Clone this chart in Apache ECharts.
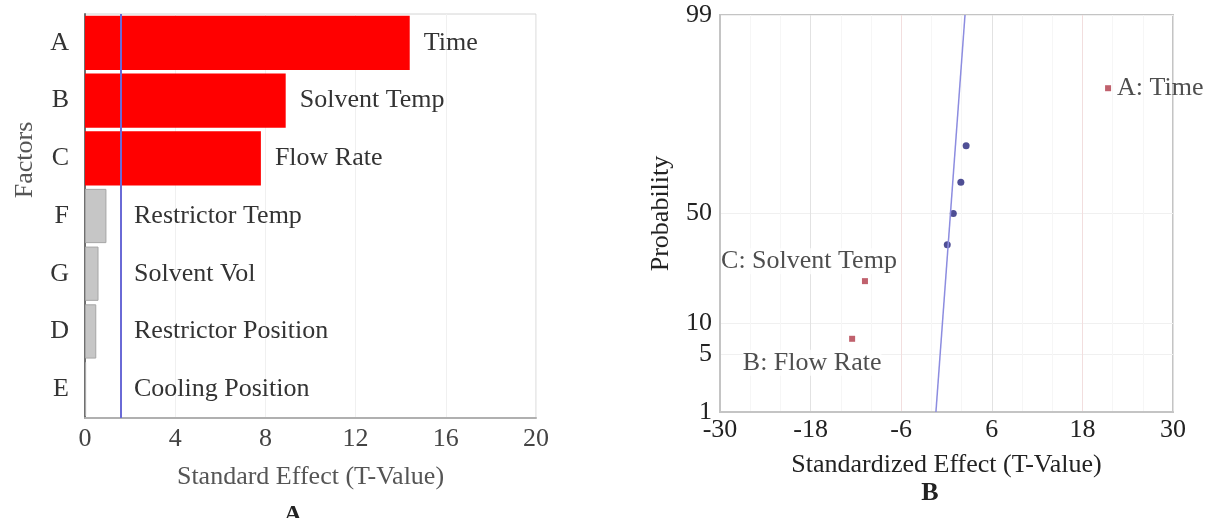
<!DOCTYPE html>
<html>
<head>
<meta charset="utf-8">
<script src="https://cdn.jsdelivr.net/npm/echarts@6/dist/echarts.min.js"></script>
<style>
  html, body { margin: 0; padding: 0; background: #fff; }
  #main { width: 1217px; height: 518px; }
</style>
</head>
<body>
<div id="main"></div>
<script>
// --- Pareto chart (A) ---
var factors = ['A', 'B', 'C', 'F', 'G', 'D', 'E'];
var factorNames = ['Time', 'Solvent Temp', 'Flow Rate', 'Restrictor Temp', 'Solvent Vol', 'Restrictor Position', 'Cooling Position'];
var tValues = [14.4, 8.9, 7.8, 0.95, 0.6, 0.5, 0.05];
var critT = 1.6;

// --- normal probability plot (B) ---
var sigNames = ['A: Time', 'C: Solvent Temp', 'B: Flow Rate'];
var sigEffect = [21.4, -10.8, -12.5];
var sigProb = [92.9, 21.4, 7.1];
var otherEffect = [0.1, 0.9, 1.9, 2.6];
var otherProb = [35.7, 50, 64.3, 78.6];
var fitEffect = [-1.4, 2.45];
var fitProb = [1, 99];
var probTicks = [1, 5, 10, 50, 99];

var serif = 'Liberation Serif';

// inverse normal cdf (Acklam), used for the probability axis
function probit(p) {
  var a = [-39.69683028665376, 220.9460984245205, -275.9285104469687, 138.3577518672690, -30.66479806614716, 2.506628277459239];
  var b = [-54.47609879822406, 161.5858368580409, -155.6989798598866, 66.80131188771972, -13.28068155833172];
  var c = [-0.007784894002430293, -0.3223964580411365, -2.400758277161838, -2.549732539343734, 4.374664141464968, 2.938163982698783];
  var d = [0.007784695709041462, 0.3224671290700398, 2.445134137142996, 3.754408661907416];
  var q, r;
  if (p < 0.02425) {
    q = Math.sqrt(-2 * Math.log(p));
    return (((((c[0]*q+c[1])*q+c[2])*q+c[3])*q+c[4])*q+c[5]) / ((((d[0]*q+d[1])*q+d[2])*q+d[3])*q+1);
  }
  if (p > 1 - 0.02425) {
    q = Math.sqrt(-2 * Math.log(1 - p));
    return -(((((c[0]*q+c[1])*q+c[2])*q+c[3])*q+c[4])*q+c[5]) / ((((d[0]*q+d[1])*q+d[2])*q+d[3])*q+1);
  }
  q = p - 0.5; r = q * q;
  return (((((a[0]*r+a[1])*r+a[2])*r+a[3])*r+a[4])*r+a[5])*q / (((((b[0]*r+b[1])*r+b[2])*r+b[3])*r+b[4])*r+1);
}
var z = function (pct) { return probit(pct / 100); };
var probTickZ = probTicks.map(z);

var barData = tValues.map(function (v, i) {
  var big = v > critT;
  return {
    value: v,
    name: factorNames[i],
    itemStyle: big ? { color: '#ff0000' } : { color: '#c6c6c6', borderColor: '#a6a6a6', borderWidth: 1 },
    label: big ? { position: 'right', distance: 14 } : { position: [49, '50%'], verticalAlign: 'middle' }
  };
});

var sigOffsets = [[0, 0], [-56, -20], [-40, 24]];
var sigData = sigEffect.map(function (x, i) {
  var lab = { show: true, formatter: sigNames[i] };
  if (i === 0) { lab.position = 'right'; lab.distance = 6; }
  else { lab.position = 'inside'; lab.offset = sigOffsets[i]; lab.backgroundColor = '#fff'; }
  return { value: [x, z(sigProb[i])], label: lab };
});

var option = {
  animation: false,
  textStyle: { fontFamily: serif },
  grid: [
    { left: 85, right: 681, top: 14, bottom: 100, show: true, borderColor: '#d4d4d4', borderWidth: 1 },
    { left: 720, right: 44, top: 15, bottom: 106, show: true, borderColor: '#c4c4c4', borderWidth: 2 }
  ],
  xAxis: [
    {
      gridIndex: 0, type: 'value', min: 0, max: 20, interval: 4,
      name: 'Standard Effect (T-Value)', nameLocation: 'middle', nameGap: 46,
      nameTextStyle: { fontFamily: serif, fontSize: 26, color: '#555' },
      axisLine: { show: true, onZero: false, lineStyle: { color: '#b0b0b0', width: 2 } },
      axisTick: { show: false },
      axisLabel: { fontFamily: serif, fontSize: 26, color: '#444', margin: 8 },
      splitLine: { show: true, lineStyle: { color: '#f0f0f0' } }
    },
    {
      gridIndex: 1, type: 'value', min: -30, max: 30, interval: 12,
      name: 'Standardized Effect (T-Value)', nameLocation: 'middle', nameGap: 40,
      nameTextStyle: { fontFamily: serif, fontSize: 26, color: '#222' },
      axisLine: { show: true, onZero: false, lineStyle: { color: '#c4c4c4', width: 2 } },
      axisTick: { show: false },
      axisLabel: { fontFamily: serif, fontSize: 26, color: '#222', margin: 5 },
      splitLine: { show: true, lineStyle: { color: ['#e0e0e0', '#e2e2e2', '#f2dede', '#e2e2e2', '#f2dede', '#e0e0e0'] } },
      minorTick: { show: false, splitNumber: 3 },
      minorSplitLine: { show: true, lineStyle: { color: '#f6f6f6' } }
    }
  ],
  yAxis: [
    {
      gridIndex: 0, type: 'category', data: factors, inverse: true,
      axisLine: { show: true, onZero: false, lineStyle: { color: '#707070', width: 2 } },
      axisTick: { show: false },
      axisLabel: { fontFamily: serif, fontSize: 26, color: '#333', margin: 16 },
      splitLine: { show: false }
    },
    {
      gridIndex: 1, type: 'value', min: probTickZ[0], max: probTickZ[probTickZ.length - 1],
      name: 'Probability', nameLocation: 'middle', nameGap: 46,
      nameTextStyle: { fontFamily: serif, fontSize: 26, color: '#222' },
      axisLine: { show: true, onZero: false, lineStyle: { color: '#c4c4c4', width: 2 } },
      axisTick: { show: false, customValues: probTickZ },
      axisLabel: {
        fontFamily: serif, fontSize: 26, color: '#222', margin: 8,
        customValues: probTickZ,
        formatter: function (v) {
          var best = 0;
          probTickZ.forEach(function (t, i) { if (Math.abs(t - v) < Math.abs(probTickZ[best] - v)) best = i; });
          return String(probTicks[best]);
        }
      },
      splitLine: { show: true, lineStyle: { color: '#f0f0f0' } }
    }
  ],
  graphic: [
    { type: 'text', x: 25, y: 160, rotation: Math.PI / 2,
      style: { text: 'Factors', fontFamily: serif, fontSize: 26, fill: '#555', align: 'center', verticalAlign: 'middle' } },
    { type: 'text', x: 293, y: 503,
      style: { text: 'A', fontFamily: serif, fontSize: 24, fontWeight: 'bold', fill: '#222', align: 'center' } },
    { type: 'text', x: 930, y: 480,
      style: { text: 'B', fontFamily: serif, fontSize: 26, fontWeight: 'bold', fill: '#222', align: 'center' } }
  ],
  series: [
    {
      type: 'bar', xAxisIndex: 0, yAxisIndex: 0,
      data: barData, barCategoryGap: '6%',
      label: { show: true, formatter: '{b}', fontFamily: serif, fontSize: 26, color: '#333' },
      markLine: {
        silent: true, symbol: 'none', label: { show: false },
        lineStyle: { color: '#6a6ad6', width: 2, type: 'solid' },
        data: [{ xAxis: critT }]
      }
    },
    {
      type: 'line', xAxisIndex: 1, yAxisIndex: 1,
      data: fitEffect.map(function (x, i) { return [x, z(fitProb[i])]; }),
      symbol: 'none', lineStyle: { color: '#8c8ce0', width: 1.5 }
    },
    {
      type: 'scatter', xAxisIndex: 1, yAxisIndex: 1,
      data: otherEffect.map(function (x, i) { return [x, z(otherProb[i])]; }),
      symbol: 'circle', symbolSize: 7, itemStyle: { color: '#23237a' }
    },
    {
      type: 'scatter', xAxisIndex: 1, yAxisIndex: 1,
      data: sigData, symbol: 'rect', symbolSize: 6,
      itemStyle: { color: '#b03a48' },
      label: { fontFamily: serif, fontSize: 26, color: '#222' }
    }
  ]
};

var chart = echarts.init(document.getElementById('main'));
chart.setOption(option);
</script>
</body>
</html>
